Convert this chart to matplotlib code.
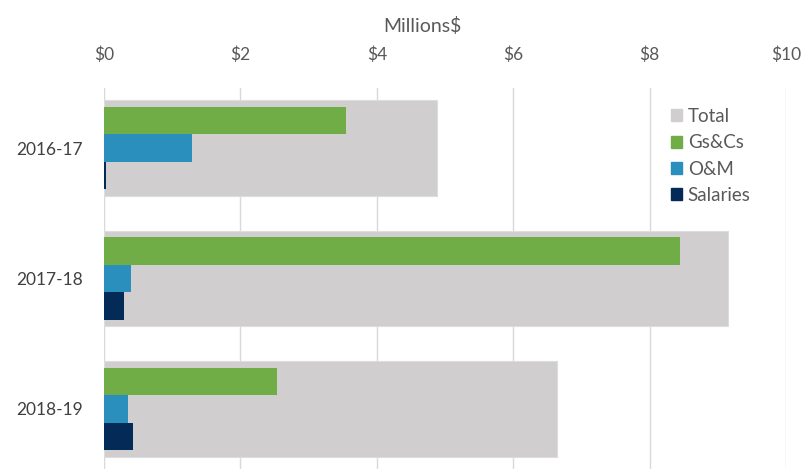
import matplotlib.pyplot as plt
from matplotlib.patches import Patch
import numpy as np

plt.rcParams['font.family'] = ['Lato', 'DejaVu Sans']

# Data (millions $)
years = ['2016-17', '2017-18', '2018-19']
total = [4.89, 9.15, 6.64]
gs_cs = [3.55, 8.44, 2.53]
o_m = [1.29, 0.40, 0.35]
salaries = [0.03, 0.30, 0.43]
xticks = [0, 2, 4, 6, 8, 10]

c_total = '#D0CECE'
c_gs = '#70AD47'
c_om = '#2A8FBD'
c_sal = '#042A57'
txt = '#595959'

W, H = 809, 469
fig = plt.figure(figsize=(W / 100, H / 100), dpi=100)
ax = fig.add_axes([104 / W, 0.0, (786 - 104) / W, (H - 88) / H])

y = np.arange(len(years))
h = 0.21
ax.barh(y, total, height=0.735, color=c_total, edgecolor='#DEDDDD', linewidth=0.8, zorder=2)
ax.barh(y - h, gs_cs, height=h, color=c_gs, zorder=3)
ax.barh(y, o_m, height=h, color=c_om, zorder=3)
ax.barh(y + h, salaries, height=h, color=c_sal, zorder=3)

ax.set_xlim(0, 10)
ax.set_ylim(2.46, -0.46)
ax.set_xticks(xticks)
ax.set_xticklabels(['$' + str(v) for v in xticks])
ax.set_yticks(y)
ax.set_yticklabels(years)

ax.xaxis.tick_top()
ax.tick_params(axis='x', length=0, pad=18, labelsize=12.5, labelcolor=txt)
ax.tick_params(axis='y', length=0, pad=15, labelsize=12.5, labelcolor='#404040')
ax.grid(axis='x', color='#D9D9D9', linewidth=1, zorder=0)
for s in ax.spines.values():
    s.set_visible(False)

fig.text(422 / W, 1 - 26 / H, 'Millions$', ha='center', va='center',
         fontsize=14, color=txt)

handles = [Patch(color=c_total, label='Total'),
           Patch(color=c_gs, label='Gs&Cs'),
           Patch(color=c_om, label='O&M'),
           Patch(color=c_sal, label='Salaries')]
leg = fig.legend(handles=handles, loc='upper left',
                 bbox_to_anchor=(654 / W, 1 - 91 / H),
                 frameon=True, fancybox=False, edgecolor='none', facecolor='white',
                 framealpha=1, fontsize=13.5, handlelength=0.6, handleheight=0.6,
                 handletextpad=0.3, labelspacing=0.5, borderpad=0.4)
for t in leg.get_texts():
    t.set_color(txt)

fig.savefig('out.png', dpi=100)
